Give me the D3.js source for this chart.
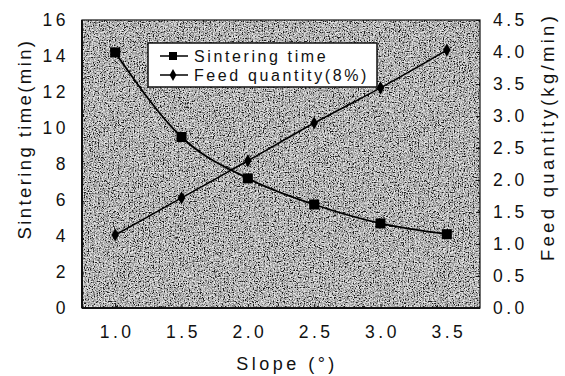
<!DOCTYPE html>
<html>
<head>
<meta charset="utf-8">
<script src="https://cdn.jsdelivr.net/npm/d3@7"></script>
<style>
  body { margin: 0; background: #fff; }
  text { font-family: "Liberation Sans", Arial, sans-serif; fill: #111; }
</style>
</head>
<body>
<div id="chart"></div>
<script>
// data
const slopes = [1.0, 1.5, 2.0, 2.5, 3.0, 3.5];
const sinteringTime = [14.2, 9.5, 7.2, 5.75, 4.7, 4.1];
const feedQuantity = [1.14, 1.72, 2.3, 2.89, 3.44, 4.03];
const xTicks = [1.0, 1.5, 2.0, 2.5, 3.0, 3.5];
const leftTicks = [0, 2, 4, 6, 8, 10, 12, 14, 16];
const rightTicks = [0, 0.5, 1.0, 1.5, 2.0, 2.5, 3.0, 3.5, 4.0, 4.5];

const width = 565, height = 376;
const margin = { top: 20, right: 85, bottom: 68, left: 82 };
const iw = width - margin.left - margin.right;
const ih = height - margin.top - margin.bottom;

const svg = d3.select("#chart").append("svg")
    .attr("width", width)
    .attr("height", height);

// grainy scan texture for the plot background
const defs = svg.append("defs");
const filt = defs.append("filter").attr("id", "grain")
    .attr("x", 0).attr("y", 0).attr("width", 1).attr("height", 1);
filt.append("feTurbulence")
    .attr("type", "fractalNoise")
    .attr("baseFrequency", "0.8")
    .attr("numOctaves", 2)
    .attr("seed", 3)
    .attr("result", "noise");
filt.append("feColorMatrix")
    .attr("in", "noise")
    .attr("type", "matrix")
    .attr("values", "1.6 1.6 1.6 0 -1.9  1.6 1.6 1.6 0 -1.9  1.6 1.6 1.6 0 -1.9  0 0 0 0 1");

const x = d3.scaleLinear().domain([0.75, 3.75]).range([0, iw]);
const yL = d3.scaleLinear().domain([0, 16]).range([ih, 0]);
const yR = d3.scaleLinear().domain([0, 4.5]).range([ih, 0]);

const g = svg.append("g").attr("transform", `translate(${margin.left},${margin.top})`);

g.append("rect")
    .attr("width", iw).attr("height", ih)
    .attr("fill", "#8c8c8c");
g.append("rect")
    .attr("width", iw).attr("height", ih)
    .attr("filter", "url(#grain)")
    .attr("opacity", 0.8);

g.append("rect")
    .attr("width", iw).attr("height", ih)
    .attr("fill", "none")
    .attr("stroke", "#111")
    .attr("stroke-width", 1.2);
// heavier left/bottom edges
g.append("line").attr("x1", 0).attr("x2", 0).attr("y1", 0).attr("y2", ih)
    .attr("stroke", "#111").attr("stroke-width", 2);
g.append("line").attr("x1", 0).attr("x2", iw).attr("y1", ih).attr("y2", ih)
    .attr("stroke", "#111").attr("stroke-width", 2);

// axes
const tickFont = 17.5;
const xAxis = g.append("g").attr("transform", `translate(0,${ih})`)
    .call(d3.axisBottom(x).tickValues(xTicks).tickFormat(d3.format(".1f")).tickSize(-4).tickPadding(18));
const leftAxis = g.append("g")
    .call(d3.axisLeft(yL).tickValues(leftTicks).tickFormat(d3.format("d")).tickSize(0).tickPadding(13));
const rightAxis = g.append("g").attr("transform", `translate(${iw},0)`)
    .call(d3.axisRight(yR).tickValues(rightTicks).tickFormat(d3.format(".1f")).tickSize(-4).tickPadding(13));

[xAxis, leftAxis, rightAxis].forEach(a => {
    a.select(".domain").remove();
    a.selectAll(".tick line").attr("stroke", "#111");
    a.selectAll("text")
        .attr("font-size", tickFont)
        .style("letter-spacing", "3.5px")
        .attr("fill", "#111");
});
xAxis.selectAll("text").attr("dx", "1.5px");

// series
const line = (ys, s) => d3.line()
    .x((d, i) => x(slopes[i]))
    .y(d => s(d))
    .curve(d3.curveMonotoneX)(ys);

g.append("path").attr("d", line(sinteringTime, yL))
    .attr("fill", "none").attr("stroke", "#000").attr("stroke-width", 1.8);
g.append("path").attr("d", line(feedQuantity, yR))
    .attr("fill", "none").attr("stroke", "#000").attr("stroke-width", 1.6);

g.selectAll(".sq").data(sinteringTime).enter().append("rect")
    .attr("x", (d, i) => x(slopes[i]) - 5)
    .attr("y", d => yL(d) - 5)
    .attr("width", 10).attr("height", 10)
    .attr("fill", "#000");

g.selectAll(".dm").data(feedQuantity).enter().append("path")
    .attr("transform", (d, i) => `translate(${x(slopes[i])},${yR(d)})`)
    .attr("d", d3.symbol().type(d3.symbolDiamond).size(50))
    .attr("fill", "#000");

// legend
const leg = svg.append("g").attr("transform", "translate(148,43)");
leg.append("rect").attr("width", 229).attr("height", 44)
    .attr("fill", "#fff").attr("stroke", "#111").attr("stroke-width", 1.5);
const items = [["Sintering time", "sq"], ["Feed quantity(8%)", "dm"]];
items.forEach((it, i) => {
    const yy = 13 + i * 19;
    leg.append("line").attr("x1", 12).attr("x2", 40).attr("y1", yy).attr("y2", yy)
        .attr("stroke", "#000").attr("stroke-width", 1.5);
    if (it[1] === "sq") {
        leg.append("rect").attr("x", 21).attr("y", yy - 4).attr("width", 8).attr("height", 8).attr("fill", "#000");
    } else {
        leg.append("path").attr("transform", `translate(25,${yy})`)
            .attr("d", d3.symbol().type(d3.symbolDiamond).size(40)).attr("fill", "#000");
    }
    leg.append("text").attr("x", 46).attr("y", yy + 5.5)
        .attr("font-size", 16).style("letter-spacing", "2.6px")
        .text(it[0]);
});

// axis titles
svg.append("text")
    .attr("transform", "translate(31,139) rotate(-90)")
    .attr("text-anchor", "middle")
    .attr("font-size", 18.5).style("letter-spacing", "2.4px")
    .text("Sintering time(min)");
svg.append("text")
    .attr("transform", "translate(554,137) rotate(-90)")
    .attr("text-anchor", "middle")
    .attr("font-size", 18.5).style("letter-spacing", "3.3px")
    .text("Feed quantity(kg/min)");
svg.append("text")
    .attr("x", 287).attr("y", 370)
    .attr("text-anchor", "middle")
    .attr("font-size", 18).style("letter-spacing", "3.5px")
    .text("Slope (°)");
</script>
</body>
</html>
